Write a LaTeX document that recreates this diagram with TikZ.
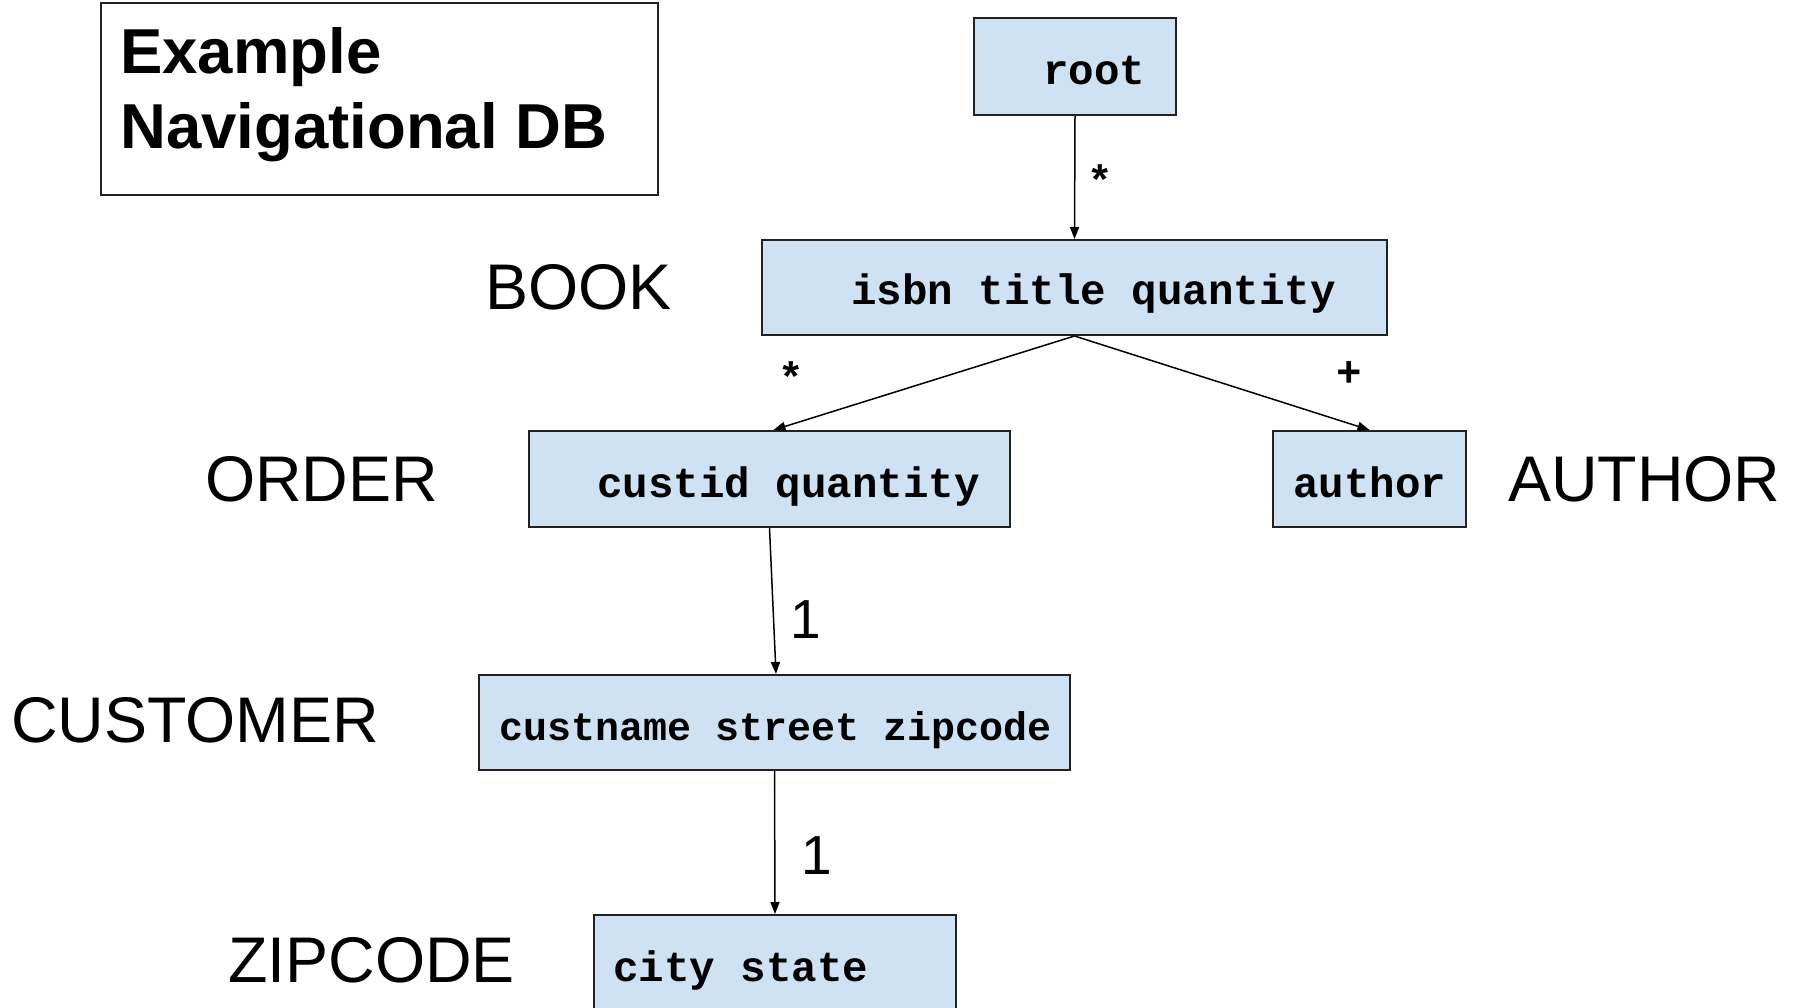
\documentclass[tikz,border=0pt]{standalone}
\usepackage{fontspec}
\setmainfont{Liberation Sans}
\newfontfamily\monofam{Liberation Mono}
\usetikzlibrary{arrows.meta}
\definecolor{boxblue}{HTML}{CFE2F3}
\definecolor{edge}{HTML}{222222}
\tikzset{
  recbox/.style={draw=edge, line width=2pt, fill=boxblue, inner sep=0pt, anchor=center},
  fieldtxt/.style={anchor=base west, inner sep=0pt, font=\monofam\bfseries\fontsize{42.5}{50}\selectfont},
  sidelbl/.style={anchor=west, inner sep=0pt, font=\fontsize{64.5}{75}\selectfont},
  mult/.style={inner sep=0pt, font=\monofam\bfseries\fontsize{42.5}{50}\selectfont},
  card/.style={inner sep=0pt, font=\fontsize{55}{60}\selectfont},
  conn/.style={draw=black, line width=1.5pt, -{Stealth[length=12pt,width=9pt,inset=0pt]}}
}
\begin{document}
\begin{tikzpicture}[x=1pt,y=-1pt]
\useasboundingbox (0,0) rectangle (1797,1008);
\clip (0,0) rectangle (1797,1008);
\fill[white] (0,0) rectangle (1797,1008);

% title box
\node[draw=edge, line width=1.5pt, minimum width=557pt, minimum height=192pt, inner sep=0pt] (title) at (379.5,99) {};
\node[anchor=base west, inner sep=0pt, font=\bfseries\fontsize{63.5}{74}\selectfont] (t1) at (120,74) {Example};
\node[anchor=base west, inner sep=0pt, font=\bfseries\fontsize{63.5}{74}\selectfont] (t2) at (120,149) {Navigational DB};

% boxes
\node[recbox, minimum width=202pt, minimum height=97pt] (root) at (1075,66.5) {};
\node[fieldtxt] (rootT) at (1043,85) {root};

\node[recbox, minimum width=625pt, minimum height=95pt] (book) at (1074.5,287.5) {};
\node[fieldtxt] (bookT) at (851,305) {isbn title quantity};

\node[recbox, minimum width=481pt, minimum height=96pt] (order) at (769.5,479) {};
\node[fieldtxt] (orderT) at (597,497.5) {custid quantity};

\node[recbox, minimum width=193pt, minimum height=96pt] (author) at (1369.5,479) {};
\node[fieldtxt] (authorT) at (1293,497.5) {author};

\node[recbox, minimum width=591pt, minimum height=95pt] (cust) at (774.5,722.5) {};
\node[fieldtxt, font=\monofam\bfseries\fontsize{40}{48}\selectfont] (custT) at (499,740) {custname street zipcode};

\node[recbox, minimum width=362pt, minimum height=110pt] (zip) at (775,970) {};
\node[fieldtxt] (zipT) at (613,981.5) {city state};

% side labels
\node[sidelbl] (lbook) at (485,287) {BOOK};
\node[sidelbl] (lorder) at (205,479) {ORDER};
\node[sidelbl] (lauthor) at (1508,479) {AUTHOR};
\node[sidelbl] (lcust) at (11,720) {CUSTOMER};
\node[sidelbl] (lzip) at (228,960) {ZIPCODE};

% connectors
\draw[conn] (root.south) -- (book.north);
\draw[conn] (book.south) -- ([xshift=4pt]order.north);
\draw[conn] (book.south) -- (author.north);
\draw[conn] (order.south) -- ([xshift=1.5pt]cust.north);
\draw[conn] (cust.south) -- (zip.north);

% multiplicities
\node[mult] (m1) at (1100,180) {*};
\node[mult] (m2) at (791,377) {*};
\node[mult] (m3) at (1349,374) {+};
\node[card] (c1) at (806,620) {1};
\node[card] (c2) at (817,856) {1};
\end{tikzpicture}
\end{document}
